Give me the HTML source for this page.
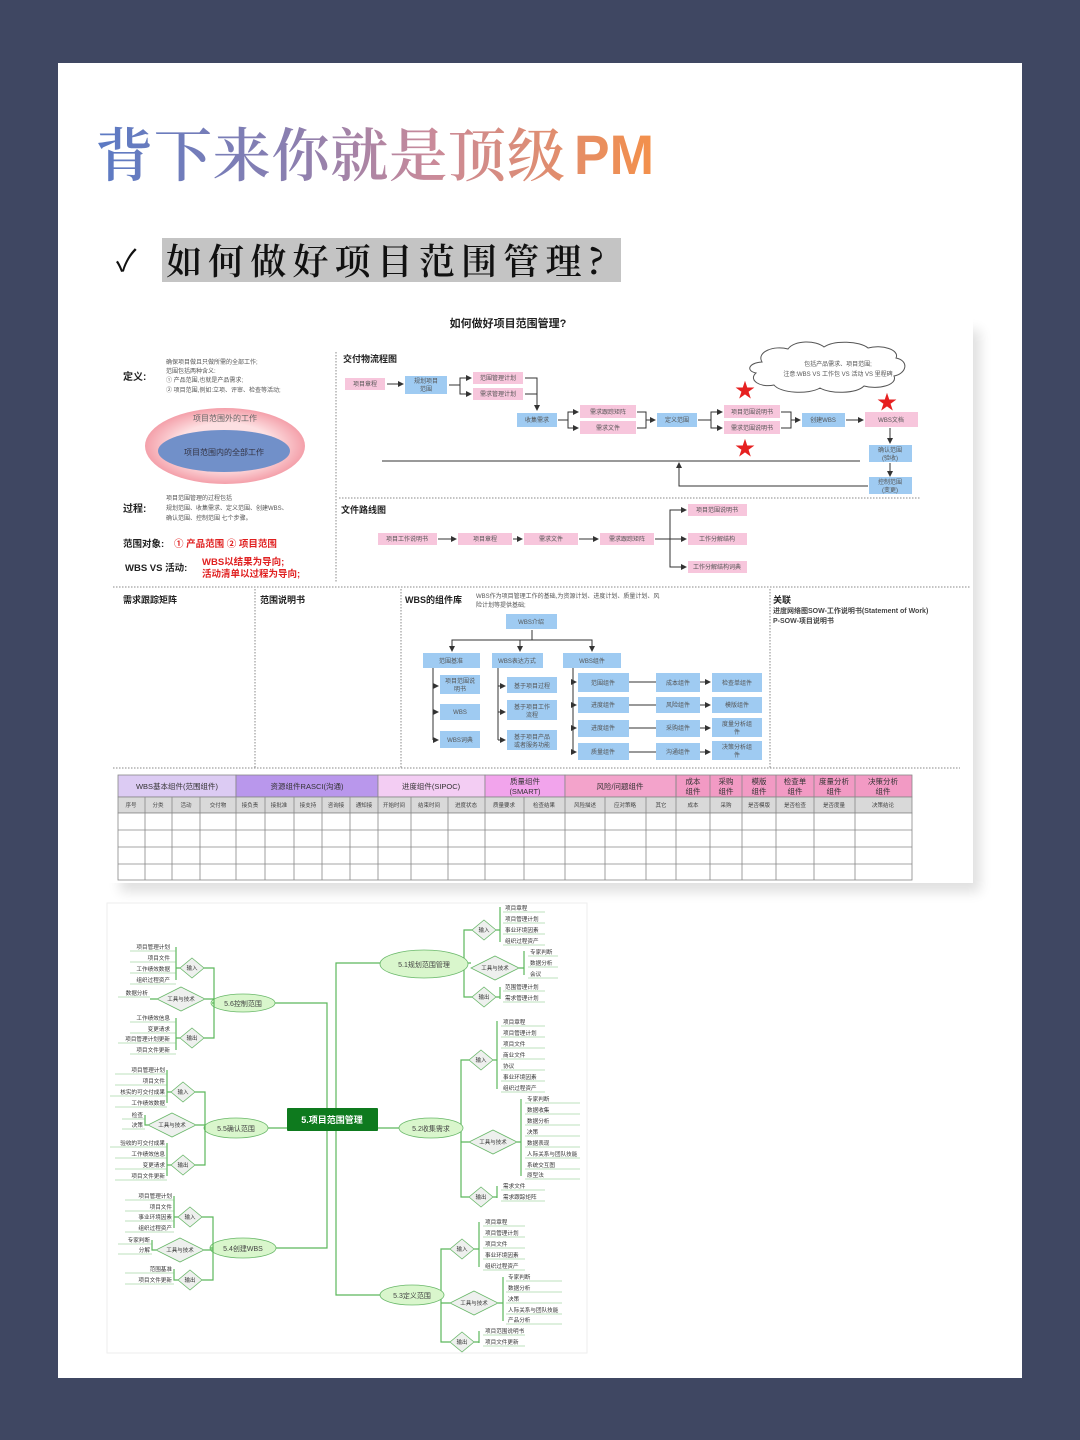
<!DOCTYPE html>
<html><head><meta charset="utf-8"><style>
html,body{margin:0;padding:0;background:#3f4762;}
svg{display:block}
text{font-family:"Liberation Sans","Noto Sans CJK SC",sans-serif;}
.s{font-size:6px;fill:#555}
.m{font-size:6.5px;fill:#666}
.b{font-weight:bold;fill:#222}
.pk{fill:#f7c6dc}
.bl{fill:#9fcbf2}
.ln{stroke:#333;stroke-width:1;fill:none}
.dt{stroke:#888;stroke-width:1;stroke-dasharray:1.5 1.5;fill:none}
.g{stroke:#5cb85c;stroke-width:1.2;fill:none}
.dm{fill:#eef0ee;stroke:#6ab86a;stroke-width:0.8}
.cl{fill:#d9f6cc;stroke:#6ab86a;stroke-width:0.8}
.lf{font-size:5.6px;fill:#333}
</style></head><body>
<svg width="1080" height="1440" viewBox="0 0 1080 1440" xmlns="http://www.w3.org/2000/svg">
<defs>
<linearGradient id="tg" x1="95" y1="0" x2="655" y2="0" gradientUnits="userSpaceOnUse">
<stop offset="0" stop-color="#5b7ac4"/><stop offset="0.35" stop-color="#8a7fb0"/><stop offset="0.6" stop-color="#c98a9a"/><stop offset="1" stop-color="#f4904a"/></linearGradient>
<marker id="a" markerWidth="6" markerHeight="6" refX="5" refY="3" orient="auto" markerUnits="userSpaceOnUse"><path d="M0,0 L6,3 L0,6z" fill="#333"/></marker>
<radialGradient id="og"><stop offset="0.6" stop-color="#fde0e2"/><stop offset="1" stop-color="#f4a0aa"/></radialGradient>
<filter id="sh" x="-5%" y="-5%" width="110%" height="115%"><feGaussianBlur stdDeviation="6"/></filter>
</defs>
<rect width="1080" height="1440" fill="#3f4762"/>
<rect x="58" y="63" width="964" height="1315" fill="#fff"/>
<text x="95" y="176" font-size="58" fill="url(#tg)" textLength="470" lengthAdjust="spacing" style="font-family:'Noto Serif CJK SC',serif;font-weight:600">背下来你就是顶级</text>
<text x="574" y="174" font-size="56" fill="url(#tg)" textLength="80" lengthAdjust="spacingAndGlyphs" style="font-family:'Liberation Sans',sans-serif;font-weight:bold">PM</text>
<text x="116" y="271" font-size="30" fill="#111">✓</text>
<rect x="162" y="238" width="459" height="44" fill="#c4c4c4"/>
<text x="166" y="274" font-size="36" fill="#111" textLength="438" style="font-family:'Noto Serif CJK SC',serif;font-weight:600">如何做好项目范围管理?</text>

<!-- diagram 1 -->
<rect x="120" y="330" width="860" height="562" fill="#000" opacity="0.12" filter="url(#sh)"/>
<rect x="107" y="313" width="866" height="570" fill="#fff"/>
<text x="508" y="327" font-size="11" class="b" text-anchor="middle">如何做好项目范围管理?</text>
<text x="123" y="380" font-size="10" class="b">定义:</text>
<text x="166" y="364" class="s">确保项目做且只做所需的全部工作;</text>
<text x="166" y="373" class="s">范围包括两种含义:</text>
<text x="166" y="382" class="s">① 产品范围,也就是产品需求;</text>
<text x="166" y="392" class="s">② 项目范围,例如:立项、评审、检查等活动;</text>
<ellipse cx="225" cy="446" rx="80" ry="38" fill="url(#og)"/>
<ellipse cx="224" cy="451" rx="66" ry="21" fill="#7190c9"/>
<text x="225" y="421" font-size="8" fill="#666" text-anchor="middle">项目范围外的工作</text>
<text x="224" y="455" font-size="8" fill="#334" text-anchor="middle">项目范围内的全部工作</text>
<text x="123" y="512" font-size="10" class="b">过程:</text>
<text x="166" y="500" class="s">项目范围管理的过程包括</text>
<text x="166" y="510" class="s">规划范围、收集需求、定义范围、创建WBS、</text>
<text x="166" y="520" class="s">确认范围、控制范围 七个步骤。</text>
<text x="123" y="547" font-size="9.5" class="b">范围对象:</text>
<text x="174" y="547" font-size="9.5" font-weight="bold" fill="#e02020">① 产品范围  ② 项目范围</text>
<text x="125" y="571" font-size="9.5" class="b">WBS VS 活动:</text>
<text x="202" y="565" font-size="9.5" font-weight="bold" fill="#e02020">WBS以结果为导向;</text>
<text x="202" y="577" font-size="9.5" font-weight="bold" fill="#e02020">活动清单以过程为导向;</text>
<path class="dt" d="M336 352V583 M113 587H970 M339 498H920 M255 589V768 M401 589V768 M770 589V768 M113 768H960"/>

<text x="343" y="362" font-size="9" class="b">交付物流程图</text>
<rect class="pk" x="345" y="378" width="40" height="12"/><text x="365" y="386" class="s" text-anchor="middle">项目章程</text>
<rect class="bl" x="405" y="376" width="42" height="18"/><text x="426" y="383" class="s" text-anchor="middle">规划项目</text><text x="426" y="391" class="s" text-anchor="middle">范围</text>
<rect class="pk" x="473" y="372" width="50" height="12"/><text x="498" y="380" class="s" text-anchor="middle">范围管理计划</text>
<rect class="pk" x="473" y="388" width="50" height="12"/><text x="498" y="396" class="s" text-anchor="middle">需求管理计划</text>
<path class="ln" d="M387 384H403" marker-end="url(#a)"/>
<path class="ln" d="M449 385H460V378H471" marker-end="url(#a)"/>
<path class="ln" d="M460 385V394H471" marker-end="url(#a)"/>
<path class="ln" d="M525 378H537V410" marker-end="url(#a)"/><path class="ln" d="M525 394H537"/>
<rect class="bl" x="517" y="413" width="40" height="14"/><text x="537" y="422" class="s" text-anchor="middle">收集需求</text>
<path class="ln" d="M558 420H568V412H578" marker-end="url(#a)"/><path class="ln" d="M568 420V428H578" marker-end="url(#a)"/>
<rect class="pk" x="580" y="405" width="56" height="13"/><text x="608" y="414" class="s" text-anchor="middle">需求跟踪矩阵</text>
<rect class="pk" x="580" y="421" width="56" height="13"/><text x="608" y="430" class="s" text-anchor="middle">需求文件</text>
<path class="ln" d="M637 412H646V428H637 M646 420H655" marker-end="url(#a)"/>
<rect class="bl" x="657" y="413" width="40" height="14"/><text x="677" y="422" class="s" text-anchor="middle">定义范围</text>
<path class="ln" d="M698 420H711V412H722" marker-end="url(#a)"/><path class="ln" d="M711 420V428H722" marker-end="url(#a)"/>
<rect class="pk" x="724" y="405" width="56" height="13"/><text x="752" y="414" class="s" text-anchor="middle">项目范围说明书</text>
<rect class="pk" x="724" y="421" width="56" height="13"/><text x="752" y="430" class="s" text-anchor="middle">需求范围说明书</text>
<path class="ln" d="M781 412H791V428H781 M791 420H800" marker-end="url(#a)"/>
<rect class="bl" x="802" y="413" width="43" height="14"/><text x="823" y="422" class="s" text-anchor="middle">创建WBS</text>
<path class="ln" d="M846 420H863" marker-end="url(#a)"/>
<rect class="pk" x="865" y="412" width="53" height="15"/><text x="891" y="422" class="s" text-anchor="middle">WBS文档</text>
<path class="ln" d="M890 428V443" marker-end="url(#a)"/>
<rect class="bl" x="869" y="445" width="43" height="17"/><text x="890" y="452" class="s" text-anchor="middle">确认范围</text><text x="890" y="460" class="s" text-anchor="middle">(验收)</text>
<path class="ln" d="M890 463V476" marker-end="url(#a)"/>
<rect class="bl" x="869" y="477" width="43" height="17"/><text x="890" y="484" class="s" text-anchor="middle">控制范围</text><text x="890" y="492" class="s" text-anchor="middle">(变更)</text>
<path class="ln" d="M382 461H860"/>
<path class="ln" d="M868 486H679V463" marker-end="url(#a)"/>
<path d="M762 362c-6-10 12-17 26-13c6-9 28-9 36-2c10-7 36-6 44 1c14-4 32 2 28 10c14 3 10 16-2 18c4 9-16 14-30 10c-8 8-34 8-44 2c-12 7-40 5-46-3c-14 3-26-5-18-12c-10-2-8-10 6-11z" fill="#fff" stroke="#555" stroke-width="1"/>
<text x="838" y="366" class="s" text-anchor="middle">包括产品需求、项目范围;</text>
<text x="838" y="376" class="s" text-anchor="middle">注意:WBS VS 工作包 VS 活动 VS 里程碑</text>
<text x="745" y="397" font-size="20" fill="#e62020" text-anchor="middle">★</text>
<text x="745" y="455" font-size="20" fill="#e62020" text-anchor="middle">★</text>
<text x="887" y="409" font-size="20" fill="#e62020" text-anchor="middle">★</text>

<text x="341" y="513" font-size="9" class="b">文件路线图</text>
<rect class="pk" x="378" y="533" width="59" height="12"/><text x="407" y="541" class="s" text-anchor="middle">项目工作说明书</text>
<rect class="pk" x="458" y="533" width="54" height="12"/><text x="485" y="541" class="s" text-anchor="middle">项目章程</text>
<rect class="pk" x="524" y="533" width="54" height="12"/><text x="551" y="541" class="s" text-anchor="middle">需求文件</text>
<rect class="pk" x="600" y="533" width="54" height="12"/><text x="627" y="541" class="s" text-anchor="middle">需求跟踪矩阵</text>
<path class="ln" d="M438 539H456" marker-end="url(#a)"/><path class="ln" d="M513 539H522" marker-end="url(#a)"/>
<path class="ln" d="M579 539H598" marker-end="url(#a)"/>
<path class="ln" d="M655 539H686" marker-end="url(#a)"/>
<path class="ln" d="M670 539V510H686" marker-end="url(#a)"/><path class="ln" d="M670 539V567H686" marker-end="url(#a)"/>
<rect class="pk" x="688" y="504" width="59" height="12"/><text x="717" y="512" class="s" text-anchor="middle">项目范围说明书</text>
<rect class="pk" x="688" y="533" width="59" height="12"/><text x="717" y="541" class="s" text-anchor="middle">工作分解结构</text>
<rect class="pk" x="688" y="561" width="59" height="12"/><text x="717" y="569" class="s" text-anchor="middle">工作分解结构词典</text>

<text x="123" y="603" font-size="9" class="b">需求跟踪矩阵</text>
<text x="260" y="603" font-size="9" class="b">范围说明书</text>
<text x="405" y="603" font-size="9" class="b">WBS的组件库</text>
<text x="476" y="598" class="s">WBS作为项目管理工作的基础,为资源计划、进度计划、质量计划、风</text>
<text x="476" y="607" class="s">险计划等提供基础;</text>
<text x="773" y="603" font-size="9" class="b">关联</text>
<text x="773" y="613" font-size="7" fill="#444" font-weight="bold">进度网络图SOW-工作说明书(Statement of Work)</text>
<text x="773" y="623" font-size="7" fill="#444" font-weight="bold">P-SOW-项目说明书</text>
<g font-size="6">
<rect class="bl" x="506" y="614" width="51" height="15"/><text x="531" y="624" class="s" text-anchor="middle">WBS介绍</text>
<path class="ln" d="M532 630V640H452V651 M532 640H520V651 M532 640H592V651"/>
<path class="ln" d="M452 645V651" marker-end="url(#a)"/><path class="ln" d="M520 645V651" marker-end="url(#a)"/><path class="ln" d="M592 645V651" marker-end="url(#a)"/>
<rect class="bl" x="423" y="653" width="57" height="15"/><text x="451" y="663" class="s" text-anchor="middle">范围基准</text>
<rect class="bl" x="492" y="653" width="51" height="15"/><text x="517" y="663" class="s" text-anchor="middle">WBS表达方式</text>
<rect class="bl" x="563" y="653" width="58" height="15"/><text x="592" y="663" class="s" text-anchor="middle">WBS组件</text>
<path class="ln" d="M433 668V740"/><path class="ln" d="M498 668V740"/><path class="ln" d="M573 668V752"/>
<path class="ln" d="M433 686H438" marker-end="url(#a)"/><path class="ln" d="M433 712H438" marker-end="url(#a)"/><path class="ln" d="M433 740H438" marker-end="url(#a)"/>
<rect class="bl" x="440" y="675" width="40" height="19"/><text x="460" y="683" class="s" text-anchor="middle">项目范围说</text><text x="460" y="691" class="s" text-anchor="middle">明书</text>
<rect class="bl" x="440" y="704" width="40" height="16"/><text x="460" y="714" class="s" text-anchor="middle">WBS</text>
<rect class="bl" x="440" y="731" width="40" height="17"/><text x="460" y="742" class="s" text-anchor="middle">WBS词典</text>
<path class="ln" d="M498 686H505" marker-end="url(#a)"/><path class="ln" d="M498 712H505" marker-end="url(#a)"/><path class="ln" d="M498 740H505" marker-end="url(#a)"/>
<rect class="bl" x="507" y="677" width="50" height="16"/><text x="532" y="688" class="s" text-anchor="middle">基于项目过程</text>
<rect class="bl" x="507" y="700" width="50" height="20"/><text x="532" y="709" class="s" text-anchor="middle">基于项目工作</text><text x="532" y="717" class="s" text-anchor="middle">流程</text>
<rect class="bl" x="507" y="730" width="50" height="20"/><text x="532" y="739" class="s" text-anchor="middle">基于项目产品</text><text x="532" y="747" class="s" text-anchor="middle">或者服务功能</text>
<g>
<path class="ln" d="M573 682H576" marker-end="url(#a)"/><path class="ln" d="M573 705H576" marker-end="url(#a)"/><path class="ln" d="M573 728H576" marker-end="url(#a)"/><path class="ln" d="M573 752H576" marker-end="url(#a)"/>
<rect class="bl" x="578" y="673" width="51" height="19"/><text x="603" y="685" class="s" text-anchor="middle">范围组件</text>
<rect class="bl" x="578" y="697" width="51" height="16"/><text x="603" y="707" class="s" text-anchor="middle">进度组件</text>
<rect class="bl" x="578" y="720" width="51" height="17"/><text x="603" y="730" class="s" text-anchor="middle">进度组件</text>
<rect class="bl" x="578" y="743" width="51" height="17"/><text x="603" y="754" class="s" text-anchor="middle">质量组件</text>
<path class="ln" d="M629 682H656 M629 705H656 M629 728H656 M629 752H656"/>
<rect class="bl" x="656" y="673" width="44" height="19"/><text x="678" y="685" class="s" text-anchor="middle">成本组件</text>
<rect class="bl" x="656" y="697" width="44" height="16"/><text x="678" y="707" class="s" text-anchor="middle">风险组件</text>
<rect class="bl" x="656" y="720" width="44" height="17"/><text x="678" y="730" class="s" text-anchor="middle">采购组件</text>
<rect class="bl" x="656" y="743" width="44" height="17"/><text x="678" y="754" class="s" text-anchor="middle">沟通组件</text>
<path class="ln" d="M700 682H710" marker-end="url(#a)"/><path class="ln" d="M700 705H710" marker-end="url(#a)"/><path class="ln" d="M700 728H710" marker-end="url(#a)"/><path class="ln" d="M700 752H710" marker-end="url(#a)"/>
<rect class="bl" x="712" y="673" width="50" height="19"/><text x="737" y="685" class="s" text-anchor="middle">检查单组件</text>
<rect class="bl" x="712" y="697" width="50" height="16"/><text x="737" y="707" class="s" text-anchor="middle">模版组件</text>
<rect class="bl" x="712" y="718" width="50" height="19"/><text x="737" y="726" class="s" text-anchor="middle">度量分析组</text><text x="737" y="734" class="s" text-anchor="middle">件</text>
<rect class="bl" x="712" y="741" width="50" height="19"/><text x="737" y="749" class="s" text-anchor="middle">决策分析组</text><text x="737" y="757" class="s" text-anchor="middle">件</text>
</g></g>

<!-- table -->
<g stroke="#888" stroke-width="0.8">
<rect x="118" y="775" width="118" height="22" fill="#dccbf3"/>
<rect x="236" y="775" width="142" height="22" fill="#b997ec"/>
<rect x="378" y="775" width="107" height="22" fill="#f3cdf3"/>
<rect x="485" y="775" width="80" height="22" fill="#f2a4ec"/>
<rect x="565" y="775" width="111" height="22" fill="#f3a3cb"/>
<rect x="676" y="775" width="236" height="22" fill="#f29ac4"/>
<rect x="118" y="797" width="794" height="16" fill="#d9d9d9"/>
<rect x="118" y="813" width="794" height="67" fill="#fff"/>
<path d="M118 830H912 M118 847H912 M118 864H912"/>
<path d="M145 797V880 M172 797V880 M200 797V880 M236 797V880 M265 797V880 M294 797V880 M322 797V880 M350 797V880 M378 797V880 M411 797V880 M448 797V880 M485 797V880 M524 797V880 M565 797V880 M605 797V880 M646 797V880 M676 775V880 M710 775V880 M742 775V880 M776 775V880 M814 775V880 M855 775V880"/>
</g>
<g font-size="7.5" fill="#333" text-anchor="middle">
<text x="177" y="789">WBS基本组件(范围组件)</text>
<text x="307" y="789">资源组件RASCI(沟通)</text>
<text x="431" y="789">进度组件(SIPOC)</text>
<text x="525" y="784">质量组件</text><text x="525" y="794">(SMART)</text>
<text x="620" y="789">风险/问题组件</text>
<text x="693" y="784">成本</text><text x="693" y="794">组件</text>
<text x="726" y="784">采购</text><text x="726" y="794">组件</text>
<text x="759" y="784">模版</text><text x="759" y="794">组件</text>
<text x="795" y="784">检查单</text><text x="795" y="794">组件</text>
<text x="834" y="784">度量分析</text><text x="834" y="794">组件</text>
<text x="883" y="784">决策分析</text><text x="883" y="794">组件</text>
</g>
<g font-size="5.5" fill="#444" text-anchor="middle">
<text x="131" y="807">序号</text><text x="158" y="807">分类</text><text x="186" y="807">活动</text><text x="218" y="807">交付物</text>
<text x="250" y="807">接负责</text><text x="279" y="807">接批准</text><text x="308" y="807">接支持</text><text x="336" y="807">咨询接</text><text x="364" y="807">通知接</text>
<text x="394" y="807">开始时间</text><text x="429" y="807">结束时间</text><text x="466" y="807">进度状态</text>
<text x="504" y="807">质量要求</text><text x="544" y="807">检查结果</text>
<text x="585" y="807">风险描述</text><text x="625" y="807">应对策略</text><text x="661" y="807">其它</text>
<text x="693" y="807">成本</text><text x="726" y="807">采购</text><text x="759" y="807">是否模版</text><text x="795" y="807">是否检查</text><text x="834" y="807">是否度量</text><text x="883" y="807">决策结论</text>
</g>

<!-- diagram 2 -->
<rect x="107" y="903" width="480" height="450" fill="#fff" stroke="#eee"/>
<path class="g" d="M287 1120H327V1003H275 M327 1120V1248H275 M327 1128H267 M378 1120H336V963H380 M336 1128H399 M336 1120V1295H380"/>
<rect x="287" y="1108" width="91" height="23" fill="#0e7a1e" rx="1"/>
<text x="332" y="1123" font-size="9" font-weight="bold" fill="#fff" text-anchor="middle">5.项目范围管理</text>

<path class="g" d="M467 963H464V930H472 M464 963H471 M464 963V997H472 M461 1128V1060H469 M461 1142H469 M461 1128V1197H469 M444 1295H441V1249H450 M441 1303H450 M441 1295V1342H450"/>
<path class="g" d="M496 930H500V907M500 930V942 M519 968H524V951M524 968V975 M496 997H500V987M500 997V999 M493 1060H497V1021M497 1060V1089 M517 1142H521V1099M521 1142V1176 M493 1197H497V1186M497 1197V1198 M474 1249H479V1222M479 1249V1267 M498 1303H503V1277M503 1303V1321 M474 1342H479V1331M479 1342V1343"/>
<ellipse class="cl" cx="424" cy="964" rx="44" ry="14"/><text x="424" y="967" font-size="7" fill="#444" text-anchor="middle">5.1规划范围管理</text>
<ellipse class="cl" cx="431" cy="1128" rx="32" ry="10"/><text x="431" y="1131" font-size="7" fill="#444" text-anchor="middle">5.2收集需求</text>
<ellipse class="cl" cx="412" cy="1295" rx="32" ry="10"/><text x="412" y="1298" font-size="7" fill="#444" text-anchor="middle">5.3定义范围</text>
<ellipse class="cl" cx="243" cy="1003" rx="32" ry="9"/><text x="243" y="1006" font-size="7" fill="#444" text-anchor="middle">5.6控制范围</text>
<ellipse class="cl" cx="236" cy="1128" rx="32" ry="10"/><text x="236" y="1131" font-size="7" fill="#444" text-anchor="middle">5.5确认范围</text>
<ellipse class="cl" cx="243" cy="1248" rx="33" ry="10"/><text x="243" y="1251" font-size="7" fill="#444" text-anchor="middle">5.4创建WBS</text>

<g class="lf">
<path class="dm" d="M484 920L496 930L484 940L472 930z"/><text x="484" y="932" text-anchor="middle" font-size="5.5">输入</text>
<path class="dm" d="M495 956L519 968L495 980L471 968z"/><text x="495" y="970" text-anchor="middle" font-size="5.5">工具与技术</text>
<path class="dm" d="M484 987L496 997L484 1007L472 997z"/><text x="484" y="999" text-anchor="middle" font-size="5.5">输出</text>
<text x="505" y="910">项目章程</text><text x="505" y="921">项目管理计划</text><text x="505" y="932">事业环境因素</text><text x="505" y="943">组织过程资产</text>
<text x="530" y="954">专家判断</text><text x="530" y="965">数据分析</text><text x="530" y="976">会议</text>
<text x="505" y="989">范围管理计划</text><text x="505" y="1000">需求管理计划</text>

<path class="dm" d="M481 1050L493 1060L481 1070L469 1060z"/><text x="481" y="1062" text-anchor="middle" font-size="5.5">输入</text>
<path class="dm" d="M493 1130L517 1142L493 1154L469 1142z"/><text x="493" y="1144" text-anchor="middle" font-size="5.5">工具与技术</text>
<path class="dm" d="M481 1187L493 1197L481 1207L469 1197z"/><text x="481" y="1199" text-anchor="middle" font-size="5.5">输出</text>
<text x="503" y="1024">项目章程</text><text x="503" y="1035">项目管理计划</text><text x="503" y="1046">项目文件</text><text x="503" y="1057">商业文件</text><text x="503" y="1068">协议</text><text x="503" y="1079">事业环境因素</text><text x="503" y="1090">组织过程资产</text>
<text x="527" y="1101">专家判断</text><text x="527" y="1112">数据收集</text><text x="527" y="1123">数据分析</text><text x="527" y="1134">决策</text><text x="527" y="1145">数据表现</text><text x="527" y="1156">人际关系与团队技能</text><text x="527" y="1167">系统交互图</text><text x="527" y="1177">原型法</text>
<text x="503" y="1188">需求文件</text><text x="503" y="1199">需求跟踪矩阵</text>

<path class="dm" d="M462 1239L474 1249L462 1259L450 1249z"/><text x="462" y="1251" text-anchor="middle" font-size="5.5">输入</text>
<path class="dm" d="M474 1291L498 1303L474 1315L450 1303z"/><text x="474" y="1305" text-anchor="middle" font-size="5.5">工具与技术</text>
<path class="dm" d="M462 1332L474 1342L462 1352L450 1342z"/><text x="462" y="1344" text-anchor="middle" font-size="5.5">输出</text>
<text x="485" y="1224">项目章程</text><text x="485" y="1235">项目管理计划</text><text x="485" y="1246">项目文件</text><text x="485" y="1257">事业环境因素</text><text x="485" y="1268">组织过程资产</text>
<text x="508" y="1279">专家判断</text><text x="508" y="1290">数据分析</text><text x="508" y="1301">决策</text><text x="508" y="1312">人际关系与团队技能</text><text x="508" y="1322">产品分析</text>
<text x="485" y="1333">项目范围说明书</text><text x="485" y="1344">项目文件更新</text>
</g>
<g stroke="#7cc47c" stroke-width="0.6">
<path d="M503 912H545 M503 923H545 M503 934H545 M503 945H545 M528 956H558 M528 967H558 M528 978H558 M503 991H545 M503 1002H545"/>
<path d="M501 1026H545 M501 1037H545 M501 1048H545 M501 1059H545 M501 1070H545 M501 1081H545 M501 1092H545 M525 1103H580 M525 1114H580 M525 1125H580 M525 1136H580 M525 1147H580 M525 1158H580 M525 1169H580 M525 1179H580 M501 1190H545 M501 1201H545"/>
<path d="M483 1226H525 M483 1237H525 M483 1248H525 M483 1259H525 M483 1270H525 M506 1281H562 M506 1292H562 M506 1303H562 M506 1314H562 M506 1324H562 M483 1335H525 M483 1346H525"/>
</g>

<path class="g" d="M212 1003H214V968H204 M214 1003V1038H204 M214 999H205 M204 1128H205V1092H195 M205 1125H196 M205 1128V1165H195 M210 1248H213V1217H202 M213 1250H204 M213 1248V1280H202"/>
<path class="g" d="M180 968H176V947M176 968V980 M157 999H150 M180 1038H176V1018M176 1038V1050 M171 1092H167V1070M167 1092V1103 M148 1125H145V1115 M171 1165H167V1143M167 1165V1176 M178 1217H174V1196M174 1217V1228 M156 1250H152V1240 M178 1280H174V1269"/>
<g class="lf" text-anchor="end">
<path class="dm" d="M192 958L204 968L192 978L180 968z"/><text x="192" y="970" text-anchor="middle" font-size="5.5">输入</text>
<path class="dm" d="M181 987L205 999L181 1011L157 999z"/><text x="181" y="1001" text-anchor="middle" font-size="5.5">工具与技术</text>
<path class="dm" d="M192 1028L204 1038L192 1048L180 1038z"/><text x="192" y="1040" text-anchor="middle" font-size="5.5">输出</text>
<text x="170" y="949">项目管理计划</text><text x="170" y="960">项目文件</text><text x="170" y="971">工作绩效数据</text><text x="170" y="982">组织过程资产</text>
<text x="148" y="995">数据分析</text>
<text x="170" y="1020">工作绩效信息</text><text x="170" y="1031">变更请求</text><text x="170" y="1041">项目管理计划更新</text><text x="170" y="1052">项目文件更新</text>

<path class="dm" d="M183 1082L195 1092L183 1102L171 1092z"/><text x="183" y="1094" text-anchor="middle" font-size="5.5">输入</text>
<path class="dm" d="M172 1113L196 1125L172 1137L148 1125z"/><text x="172" y="1127" text-anchor="middle" font-size="5.5">工具与技术</text>
<path class="dm" d="M183 1155L195 1165L183 1175L171 1165z"/><text x="183" y="1167" text-anchor="middle" font-size="5.5">输出</text>
<text x="165" y="1072">项目管理计划</text><text x="165" y="1083">项目文件</text><text x="165" y="1094">核实的可交付成果</text><text x="165" y="1105">工作绩效数据</text>
<text x="143" y="1117">检查</text><text x="143" y="1127">决策</text>
<text x="165" y="1145">验收的可交付成果</text><text x="165" y="1156">工作绩效信息</text><text x="165" y="1167">变更请求</text><text x="165" y="1178">项目文件更新</text>

<path class="dm" d="M190 1207L202 1217L190 1227L178 1217z"/><text x="190" y="1219" text-anchor="middle" font-size="5.5">输入</text>
<path class="dm" d="M180 1238L204 1250L180 1262L156 1250z"/><text x="180" y="1252" text-anchor="middle" font-size="5.5">工具与技术</text>
<path class="dm" d="M190 1270L202 1280L190 1290L178 1280z"/><text x="190" y="1282" text-anchor="middle" font-size="5.5">输出</text>
<text x="172" y="1198">项目管理计划</text><text x="172" y="1209">项目文件</text><text x="172" y="1219">事业环境因素</text><text x="172" y="1230">组织过程资产</text>
<text x="150" y="1242">专家判断</text><text x="150" y="1252">分解</text>
<text x="172" y="1271">范围基准</text><text x="172" y="1282">项目文件更新</text>
</g>
<g stroke="#7cc47c" stroke-width="0.6">
<path d="M130 951H176 M130 962H176 M130 973H176 M130 984H176 M118 997H150 M130 1022H176 M130 1033H176 M118 1043H176 M130 1054H176"/>
<path d="M115 1074H167 M115 1085H167 M110 1096H167 M115 1107H167 M122 1119H145 M122 1129H145 M110 1147H167 M115 1158H167 M115 1169H167 M115 1180H167"/>
<path d="M125 1200H174 M125 1211H174 M125 1221H174 M125 1232H174 M118 1244H152 M118 1254H152 M125 1273H174 M125 1284H174"/>
</g>
</svg>
</body></html>
